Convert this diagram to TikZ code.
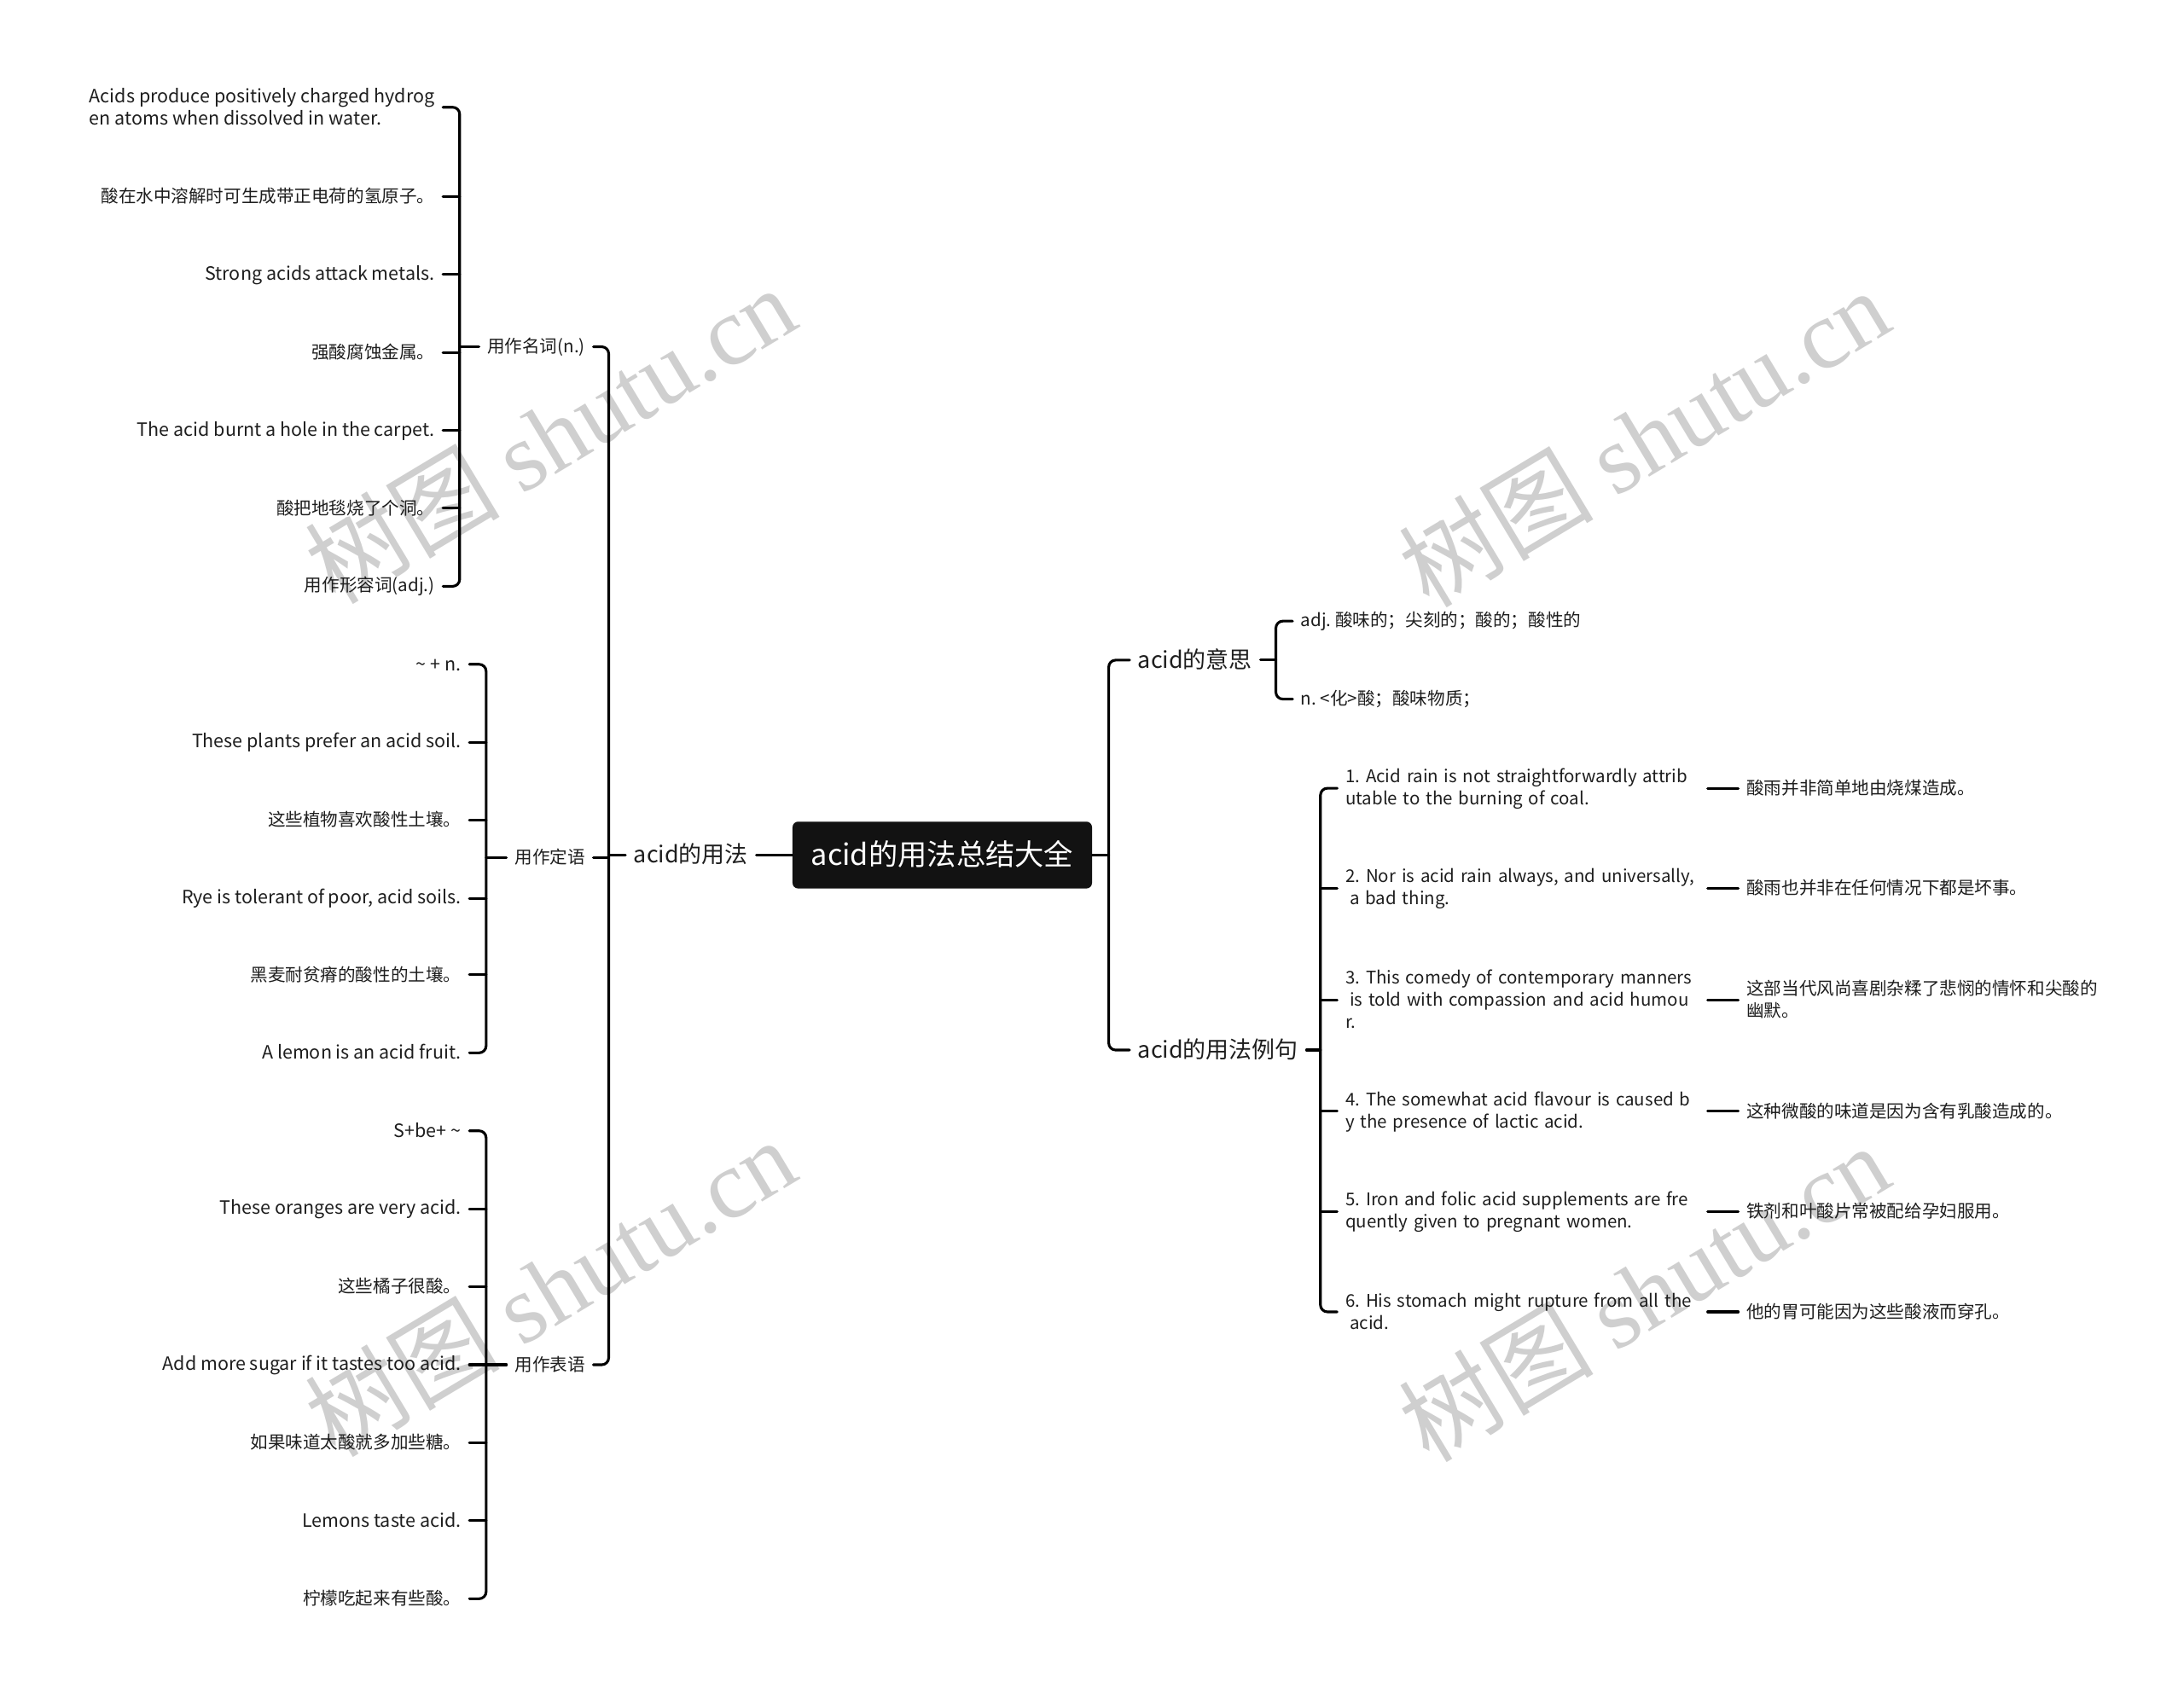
\documentclass[tikz,border=0pt]{standalone}
\usepackage{fontspec}
\setmainfont{Noto Sans CJK SC}
\newfontfamily\lat{Noto Sans CJK SC}[Scale=1.045]
\newfontfamily\wmlat{Liberation Serif}
\frenchspacing
\newcommand\st{\vrule height 0.85em depth 0.15em width 0pt}
\newcommand\xl[1]{\st\mbox{#1}}
\definecolor{txt}{RGB}{30,30,30}
\definecolor{wmgray}{RGB}{207,207,207}
\tikzset{
  conn/.style={line width=1.9pt, draw=black, rounded corners=5pt, line cap=round},
  leaf/.style={inner sep=0pt, outer xsep=6pt, outer ysep=0pt, text=txt, align=left,
    font=\fontsize{12.6}{16}\selectfont},
  latleaf/.style={leaf, font={\lat\fontsize{12.6}{16}\selectfont}},
  mid/.style={inner sep=0pt, outer xsep=6pt, outer ysep=0pt, text=txt, align=left,
    font=\fontsize{16.5}{20}\selectfont},
  rootbox/.style={fill=black!93, rounded corners=4pt, minimum width=215pt, minimum height=48pt,
    inner sep=0pt, text=white, font=\fontsize{21}{25}\selectfont},
  example/.style={leaf, font={\lat\fontsize{12.0}{16}\selectfont}, text width=254pt},
  wm/.style={text=wmgray, rotate=31, inner sep=0pt, font=\fontsize{70}{70}\selectfont}
}
\begin{document}
\begin{tikzpicture}[x=1pt,y=-1pt]
\fill[white] (0,0) rectangle (1568,1216);
\useasboundingbox (0,0) rectangle (1568,1216);

% watermarks
\node[wm] (wm1) at (395,312) {树图 {\wmlat shutu.cn}};
\node[wm] (wm2) at (1180,314) {树图 {\wmlat shutu.cn}};
\node[wm] (wm3) at (395,924) {树图 {\wmlat shutu.cn}};
\node[wm] (wm4) at (1180,928) {树图 {\wmlat shutu.cn}};

% spine coordinates
\coordinate (sA) at (330,0);
\coordinate (sB) at (349,0);
\coordinate (L1) at (437,0);
\coordinate (R1) at (796,0);
\coordinate (R2a) at (916,0);
\coordinate (R2b) at (948,0);

% root
\node[rootbox] (root) at (676.5,614) {\st acid的用法总结大全};

% left branch
\node[mid, anchor=east] (uf) at (543,614) {\st acid的用法};
\node[leaf, anchor=east] (n1) at (426,249) {\st 用作名词(n.)};
\node[leaf, anchor=east] (n2) at (426,616) {\st 用作定语};
\node[leaf, anchor=east] (n3) at (426,980) {\st 用作表语};

\node[latleaf, anchor=east] (a1) at (318,77) {\st Acids produce positively charged hydrog\\\st en atoms when dissolved in water.};
\node[leaf, anchor=east] (a2) at (318,141) {\st 酸在水中溶解时可生成带正电荷的氢原子。};
\node[latleaf, anchor=east] (a3) at (318,197) {\st Strong acids attack metals.};
\node[leaf, anchor=east] (a4) at (318,253) {\st 强酸腐蚀金属。};
\node[latleaf, anchor=east] (a5) at (318,309) {\st The acid burnt a hole in the carpet.};
\node[leaf, anchor=east] (a6) at (318,365) {\st 酸把地毯烧了个洞。};
\node[leaf, anchor=east] (a7) at (318,421) {\st 用作形容词(adj.)};

\node[latleaf, anchor=east] (b1) at (337,477) {\st \textasciitilde{} + n.};
\node[latleaf, anchor=east] (b2) at (337,533) {\st These plants prefer an acid soil.};
\node[leaf, anchor=east] (b3) at (337,589) {\st 这些植物喜欢酸性土壤。};
\node[latleaf, anchor=east] (b4) at (337,645) {\st Rye is tolerant of poor, acid soils.};
\node[leaf, anchor=east] (b5) at (337,700) {\st 黑麦耐贫瘠的酸性的土壤。};
\node[latleaf, anchor=east] (b6) at (337,756) {\st A lemon is an acid fruit.};

\node[latleaf, anchor=east] (c1) at (337,812) {\st S+be+ \textasciitilde};
\node[latleaf, anchor=east] (c2) at (337,868) {\st These oranges are very acid.};
\node[leaf, anchor=east] (c3) at (337,924) {\st 这些橘子很酸。};
\node[latleaf, anchor=east] (c4) at (337,980) {\st Add more sugar if it tastes too acid.};
\node[leaf, anchor=east] (c5) at (337,1036) {\st 如果味道太酸就多加些糖。};
\node[latleaf, anchor=east] (c6) at (337,1092) {\st Lemons taste acid.};
\node[leaf, anchor=east] (c7) at (337,1148) {\st 柠檬吃起来有些酸。};

% right branch
\node[mid, anchor=west] (m1) at (811,474) {\st acid的意思};
\node[mid, anchor=west] (m2) at (811,754) {\st acid的用法例句};
\node[leaf, anchor=west] (d1) at (928,446) {\st adj. 酸味的；尖刻的；酸的；酸性的};
\node[leaf, anchor=west] (d2) at (928,502) {\st n. \textless 化\textgreater 酸；酸味物质；};

\node[example, anchor=west] (e1) at (960,566) {\xl{1. Acid rain is not straightforwardly attrib}\\\xl{utable to the burning of coal.}};
\node[example, anchor=west] (e2) at (960,638) {\xl{2. Nor is acid rain always, and universally,}\\\xl{\hspace{0.25em}a bad thing.}};
\node[example, anchor=west] (e3) at (960,718) {\xl{3. This comedy of contemporary manners}\\\xl{\hspace{0.25em}is told with compassion and acid humou}\\\xl{r.}};
\node[example, anchor=west] (e4) at (960,798) {\xl{4. The somewhat acid flavour is caused b}\\\xl{y the presence of lactic acid.}};
\node[example, anchor=west] (e5) at (960,870) {\xl{5. Iron and folic acid supplements are fre}\\\xl{quently given to pregnant women.}};
\node[example, anchor=west] (e6) at (960,942) {\xl{6. His stomach might rupture from all the}\\\xl{\hspace{0.25em}acid.}};

\node[leaf, anchor=west] (t1) at (1248,566) {\st 酸雨并非简单地由烧煤造成。};
\node[leaf, anchor=west] (t2) at (1248,638) {\st 酸雨也并非在任何情况下都是坏事。};
\node[leaf, anchor=west] (t3) at (1248,718) {\st 这部当代风尚喜剧杂糅了悲悯的情怀和尖酸的\\\st 幽默。};
\node[leaf, anchor=west] (t4) at (1248,798) {\st 这种微酸的味道是因为含有乳酸造成的。};
\node[leaf, anchor=west] (t5) at (1248,870) {\st 铁剂和叶酸片常被配给孕妇服用。};
\node[leaf, anchor=west] (t6) at (1248,942) {\st 他的胃可能因为这些酸液而穿孔。};

% connectors: root to left
\draw[conn] (root.west) -- (uf.east);
\draw[conn] (uf.west) -- (uf.west -| L1);
\draw[conn] (n1.east) -- (n1.east -| L1) -- (n3.east -| L1) -- (n3.east);
\draw[conn] (n2.east) -- (n2.east -| L1);

% group A
\draw[conn] (n1.west) -- (n1.west -| sA);
\draw[conn] (a1.east) -- (a1.east -| sA) -- (a7.east -| sA) -- (a7.east);
\foreach \k in {a2,a3,a4,a5,a6} \draw[conn] (\k.east) -- (\k.east -| sA);

% group B
\draw[conn] (n2.west) -- (n2.west -| sB);
\draw[conn] (b1.east) -- (b1.east -| sB) -- (b6.east -| sB) -- (b6.east);
\foreach \k in {b2,b3,b4,b5} \draw[conn] (\k.east) -- (\k.east -| sB);

% group C
\draw[conn] (n3.west) -- (n3.west -| sB);
\draw[conn] (c1.east) -- (c1.east -| sB) -- (c7.east -| sB) -- (c7.east);
\foreach \k in {c2,c3,c4,c5,c6} \draw[conn] (\k.east) -- (\k.east -| sB);

% right
\draw[conn] (root.east) -- (root.east -| R1);
\draw[conn] (m1.west) -- (m1.west -| R1) -- (m2.west -| R1) -- (m2.west);
\draw[conn] (m1.east) -- (m1.east -| R2a);
\draw[conn] (d1.west) -- (d1.west -| R2a) -- (d2.west -| R2a) -- (d2.west);
\draw[conn] (m2.east) -- (m2.east -| R2b);
\draw[conn] (e1.west) -- (e1.west -| R2b) -- (e6.west -| R2b) -- (e6.west);
\foreach \k in {e2,e3,e4,e5} \draw[conn] (\k.west) -- (\k.west -| R2b);
\foreach \k in {1,...,6} \draw[conn] (e\k.east) -- (t\k.west);
\end{tikzpicture}
\end{document}
